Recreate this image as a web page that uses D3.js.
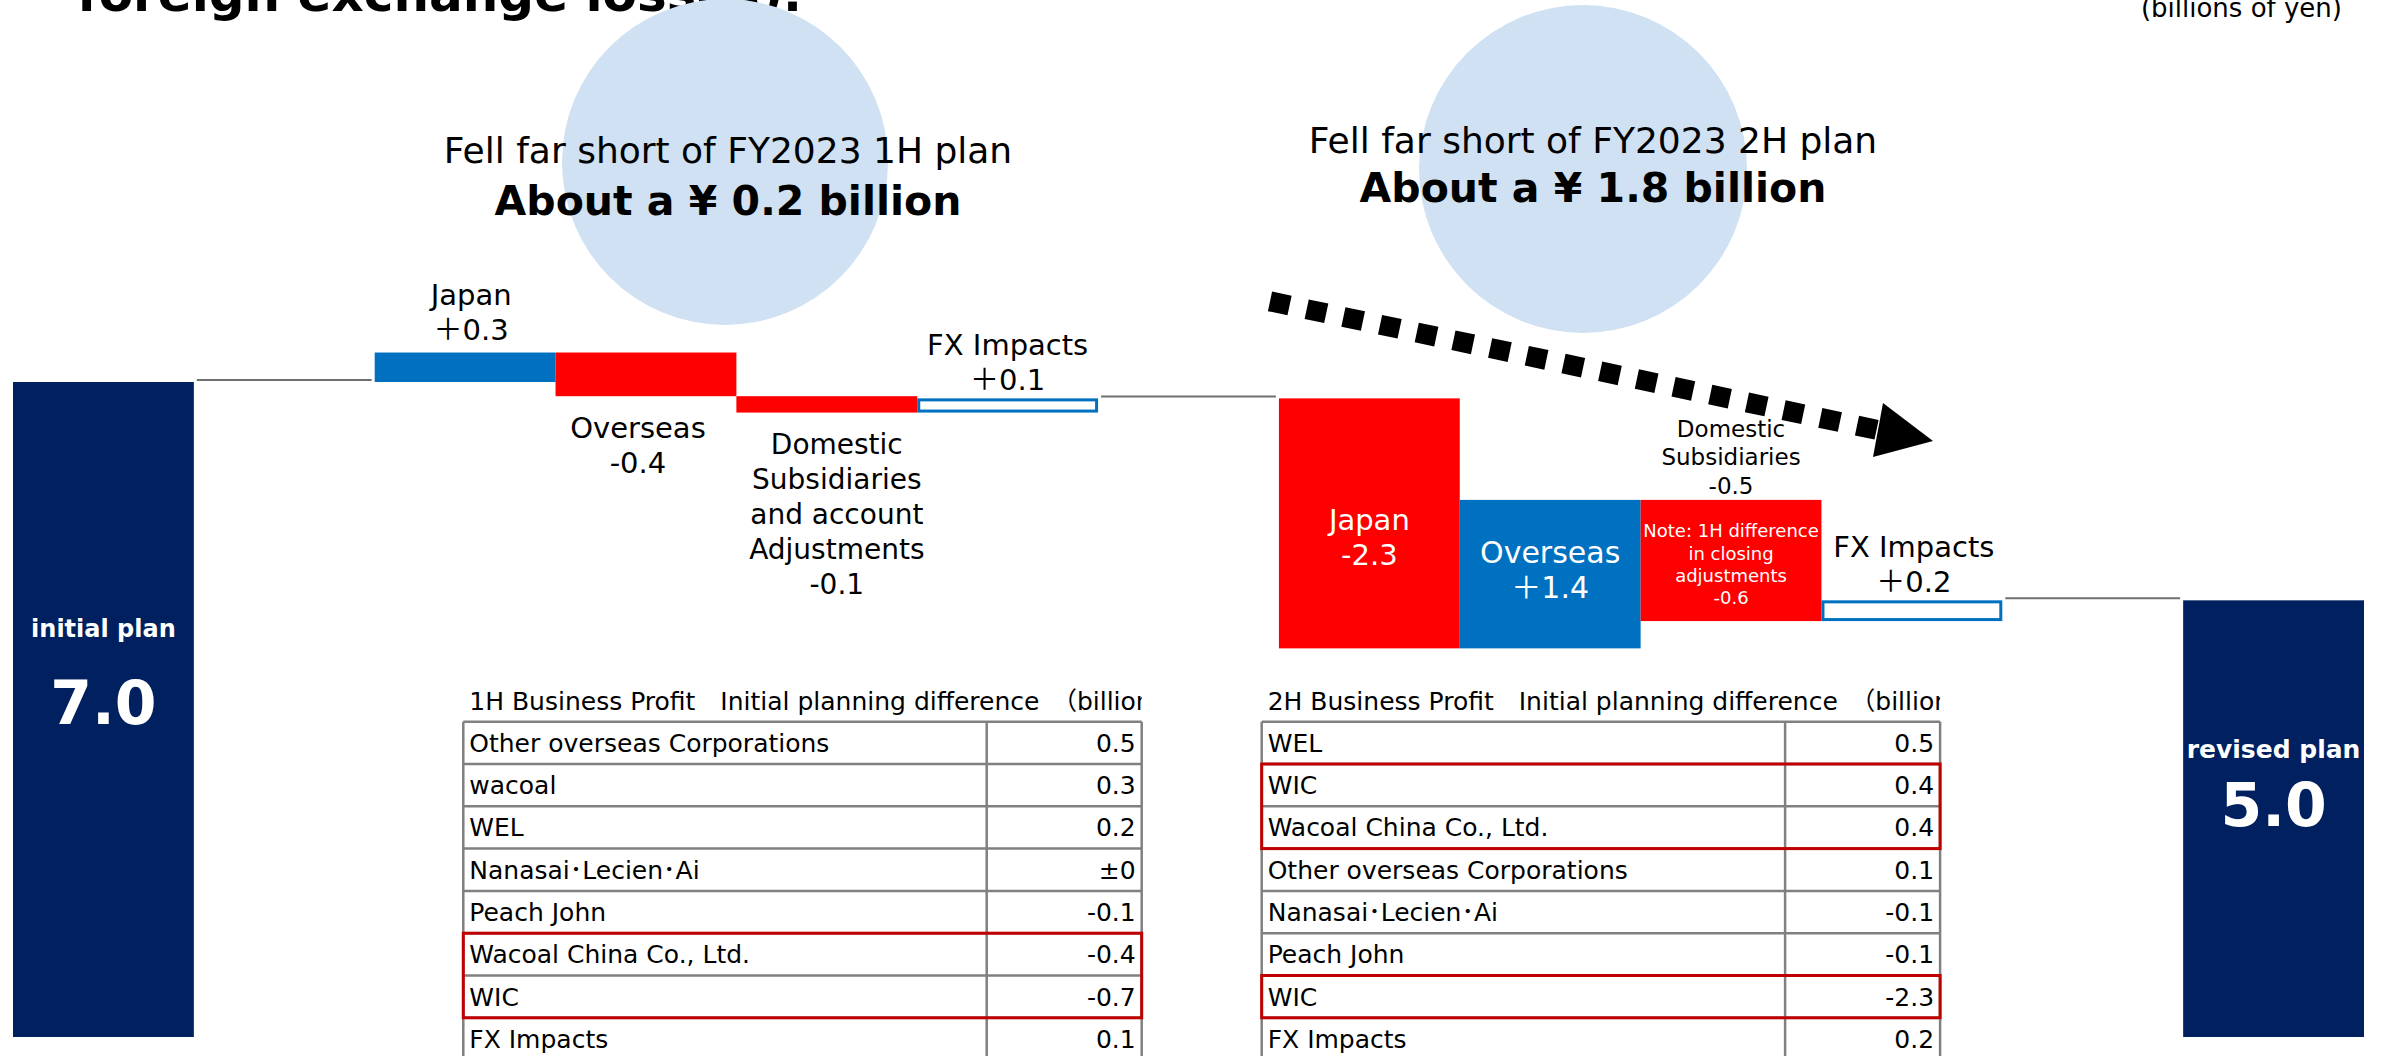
<!DOCTYPE html>
<html>
<head>
<meta charset="utf-8">
<script src="https://cdn.jsdelivr.net/npm/d3@7"></script>
<style>
  body { margin: 0; background: #fff; }
</style>
</head>
<body>
<script>
// waterfall steps (gap slots hold the connector lines)
let stepKeys = ["initial", "gapA", "jp1", "os1", "dom1", "fx1", "gapB", "jp2", "os2", "dom2", "fx2", "gapC", "revised"];
let totalKeys = ["initial", "revised"];
let totalValues = [7.0, 5.0];
let totalLabels = ["initial plan", "revised plan"];

let deltaKeys = ["jp1", "os1", "dom1", "fx1", "jp2", "os2", "dom2", "fx2"];
let deltaValues = [0.27, -0.40, -0.15, 0.13, -2.29, 1.36, -1.11, 0.19];
let deltaLabels = [
    ["Japan", "＋0.3"],
    ["Overseas", "-0.4"],
    ["Domestic", "Subsidiaries", "and account", "Adjustments", "-0.1"],
    ["FX Impacts", "＋0.1"],
    ["Japan", "-2.3"],
    ["Overseas", "＋1.4"],
    ["Domestic", "Subsidiaries", "-0.5"],
    ["FX Impacts", "＋0.2"]
];
let noteLines = ["Note: 1H difference", "in closing", "adjustments", "-0.6"];

let circleTexts = [
    ["Fell far short of FY2023 1H plan", "About a ¥ 0.2 billion"],
    ["Fell far short of FY2023 2H plan", "About a ¥ 1.8 billion"]
];

// tables
let h1Names = ["Other overseas Corporations", "wacoal", "WEL", "Nanasai･Lecien･Ai", "Peach John", "Wacoal China Co., Ltd.", "WIC", "FX Impacts"];
let h1Values = [0.5, 0.3, 0.2, 0, -0.1, -0.4, -0.7, 0.1];
let h2Names = ["WEL", "WIC", "Wacoal China Co., Ltd.", "Other overseas Corporations", "Nanasai･Lecien･Ai", "Peach John", "WIC", "FX Impacts"];
let h2Values = [0.5, 0.4, 0.4, 0.1, -0.1, -0.1, -2.3, 0.2];

let svgWidth = 2382;
let svgHeight = 1056;

let navy = "#002060", blue = "#0070C0", red = "#FF0000";

let svg = d3.select("body")
    .append("svg")
    .attr("width", svgWidth)
    .attr("height", svgHeight)
    .style("font-family", "'DejaVu Sans', 'Noto Sans CJK JP', sans-serif")

let x = d3.scaleBand()
    .domain(stepKeys)
    .range([13, 2364])
    .padding(0);

let y = d3.scaleLinear()
    .domain([1, 7])
    .range([1037, 382]);

let bw = x.bandwidth();

// page title remnant and unit
svg.append("text")
    .attr("x", 77).attr("y", 11)
    .attr("font-size", 50).attr("font-weight", "bold")
    .text("foreign exchange losses).")

svg.append("text")
    .attr("x", 2342).attr("y", 17)
    .attr("text-anchor", "end")
    .attr("font-size", 26)
    .text("(billions of yen)")

// background circles
let circles = [{cx: 725, cy: 162, r: 163}, {cx: 1583, cy: 169, r: 164}];
svg.selectAll("circle.bg")
    .data(circles)
    .enter()
    .append("circle")
    .attr("cx", d => d.cx)
    .attr("cy", d => d.cy)
    .attr("r", d => d.r)
    .attr("fill", "#cfe1f2");

let circleTextPos = [{x: 728, y1: 163, y2: 215}, {x: 1593, y1: 153, y2: 202}];
circleTexts.forEach(function (t, i) {
    let p = circleTextPos[i];
    svg.append("text")
        .attr("x", p.x).attr("y", p.y1)
        .attr("text-anchor", "middle")
        .attr("font-size", 36)
        .text(t[0]);
    svg.append("text")
        .attr("x", p.x).attr("y", p.y2)
        .attr("text-anchor", "middle")
        .attr("font-size", 41).attr("font-weight", "bold")
        .text(t[1]);
})

// dotted arrow
let arrowStart = [1270, 301.4], arrowEnd = [1878, 430.1];
svg.append("path")
    .attr("d", d3.line()([arrowStart, arrowEnd]))
    .attr("stroke", "#000")
    .attr("stroke-width", 20)
    .attr("stroke-dasharray", "20,17.5")
    .attr("fill", "none");
svg.append("path")
    .attr("d", "M1883,403 L1933,441 L1873,457 Z")
    .attr("fill", "#000");

// running totals
let steps = [];
let run = totalValues[0];
deltaKeys.forEach(function (k, i) {
    steps.push({key: k, v0: run, v1: run + deltaValues[i], delta: deltaValues[i], label: deltaLabels[i]});
    run += deltaValues[i];
});
let stepByKey = {};
steps.forEach(d => stepByKey[d.key] = d);

// total bars
let totals = totalKeys.map((k, i) => ({key: k, value: totalValues[i], label: totalLabels[i]}));
svg.selectAll("rect.total")
    .data(totals)
    .enter()
    .append("rect")
    .attr("x", d => x(d.key))
    .attr("y", d => y(d.value))
    .attr("width", bw)
    .attr("height", d => y(1) - y(d.value))
    .attr("fill", navy);

let totalTextPos = {initial: [637, 724], revised: [758, 826]};
totals.forEach(function (d) {
    let cx = x(d.key) + bw / 2;
    svg.append("text")
        .attr("x", cx).attr("y", totalTextPos[d.key][0])
        .attr("text-anchor", "middle")
        .attr("fill", "#fff").attr("font-weight", "bold")
        .attr("font-size", d.key == "initial" ? 24 : 25)
        .text(d.label);
    svg.append("text")
        .attr("x", cx).attr("y", totalTextPos[d.key][1])
        .attr("text-anchor", "middle")
        .attr("fill", "#fff").attr("font-weight", "bold")
        .attr("font-size", 60)
        .text(d3.format(".1f")(d.value));
})

// delta bars
svg.selectAll("rect.delta")
    .data(steps)
    .enter()
    .append("rect")
    .attr("x", d => d.key.startsWith("fx") ? x(d.key) + 1.5 : x(d.key))
    .attr("y", d => y(Math.max(d.v0, d.v1)) + (d.key.startsWith("fx") ? 1.5 : 0))
    .attr("width", d => d.key.startsWith("fx") ? bw - 3 : bw)
    .attr("height", d => Math.abs(y(d.v0) - y(d.v1)) - (d.key.startsWith("fx") ? 3 : 0))
    .attr("fill", d => d.key.startsWith("fx") ? "#fff" : (d.delta > 0 ? blue : red))
    .attr("stroke", d => d.key.startsWith("fx") ? blue : "none")
    .attr("stroke-width", 3);

// connectors
let connectors = [
    {key: "gapA", value: totalValues[0]},
    {key: "gapB", value: stepByKey["fx1"].v1},
    {key: "gapC", value: stepByKey["fx2"].v1}
];
svg.selectAll("line.conn")
    .data(connectors)
    .enter()
    .append("line")
    .attr("x1", d => x(d.key) + 3)
    .attr("x2", d => x(d.key) + bw - 3)
    .attr("y1", d => y(d.value) - 2)
    .attr("y2", d => y(d.value) - 2)
    .attr("stroke", "#6f6f6f")
    .attr("stroke-width", 2);

// bar labels
function multiLine(lines, cx, firstBase, lh, size, color) {
    lines.forEach(function (t, i) {
        svg.append("text")
            .attr("x", cx).attr("y", firstBase + i * lh)
            .attr("text-anchor", "middle")
            .attr("font-size", size)
            .attr("fill", color)
            .text(t);
    })
}

steps.forEach(function (d) {
    let cx = x(d.key) + bw / 2;
    let top = y(Math.max(d.v0, d.v1));
    let bot = y(Math.min(d.v0, d.v1));
    let n = d.label.length;
    if (d.key == "jp1") multiLine(d.label, cx + 6, top - 13 - 35 * (n - 1), 35, 29, "#000");
    if (d.key == "os1") multiLine(d.label, cx - 8, bot + 42, 35, 29, "#000");
    if (d.key == "dom1") multiLine(d.label, cx + 10, bot + 41, 35, 28, "#000");
    if (d.key == "fx1") multiLine(d.label, cx, top - 8 - 35 * (n - 1), 35, 29, "#000");
    if (d.key == "jp2") multiLine(d.label, cx, (top + bot) / 2 + 7, 35, 29, "#fff");
    if (d.key == "os2") multiLine(d.label, cx, (top + bot) / 2 - 11, 35, 30, "#fff");
    if (d.key == "dom2") {
        multiLine(d.label, cx, top - 6 - 28.5 * (n - 1), 28.5, 23, "#000");
        multiLine(noteLines, cx, (top + bot) / 2 - 23, 22.3, 18, "#fff");
    }
    if (d.key == "fx2") multiLine(d.label, cx + 2, top - 8 - 35 * (n - 1), 35, 29, "#000");
})

// tables
let tableTop = 721.7, rowH = 42.3, col1W = 523.4, tableW = 678.4;

function fmtVal(v) {
    return v == 0 ? "±0" : v.toFixed(1);
}

function drawTable(x0, title, names, values, boxes, id) {
    let g = svg.append("g");
    g.append("clipPath").attr("id", id)
        .append("rect")
        .attr("x", x0).attr("y", tableTop - 50)
        .attr("width", tableW).attr("height", 60);
    g.append("text")
        .attr("x", x0 + 6).attr("y", tableTop - 12)
        .attr("font-size", 25)
        .attr("clip-path", `url(#${id})`)
        .text(title);

    let rowY = d3.scaleLinear().domain([0, 1]).range([tableTop, tableTop + rowH]);

    names.forEach(function (nm, i) {
        g.append("text")
            .attr("x", x0 + 6).attr("y", rowY(i) + 30)
            .attr("font-size", 25)
            .text(nm);
        g.append("text")
            .attr("x", x0 + tableW - 6).attr("y", rowY(i) + 30)
            .attr("text-anchor", "end")
            .attr("font-size", 25)
            .text(fmtVal(values[i]));
    })

    let grid = "#808080";
    d3.range(names.length + 1).forEach(function (i) {
        g.append("line")
            .attr("x1", x0).attr("x2", x0 + tableW)
            .attr("y1", rowY(i)).attr("y2", rowY(i))
            .attr("stroke", grid).attr("stroke-width", 2.5);
    })
    ;[x0, x0 + col1W, x0 + tableW].forEach(function (xx) {
        g.append("line")
            .attr("x1", xx).attr("x2", xx)
            .attr("y1", tableTop).attr("y2", rowY(names.length))
            .attr("stroke", grid).attr("stroke-width", 2.5);
    })

    boxes.forEach(function (b) {
        g.append("rect")
            .attr("x", x0).attr("y", rowY(b[0]))
            .attr("width", tableW)
            .attr("height", rowY(b[1] + 1) - rowY(b[0]))
            .attr("fill", "none")
            .attr("stroke", "#C00000").attr("stroke-width", 3);
    })
}

drawTable(463.3, "1H Business Profit\u3000Initial planning difference\u3000（billions of yen）", h1Names, h1Values, [[5, 6]], "clip1");
drawTable(1261.7, "2H Business Profit\u3000Initial planning difference\u3000（billions of yen）", h2Names, h2Values, [[1, 2], [6, 6]], "clip2");
</script>
</body>
</html>
